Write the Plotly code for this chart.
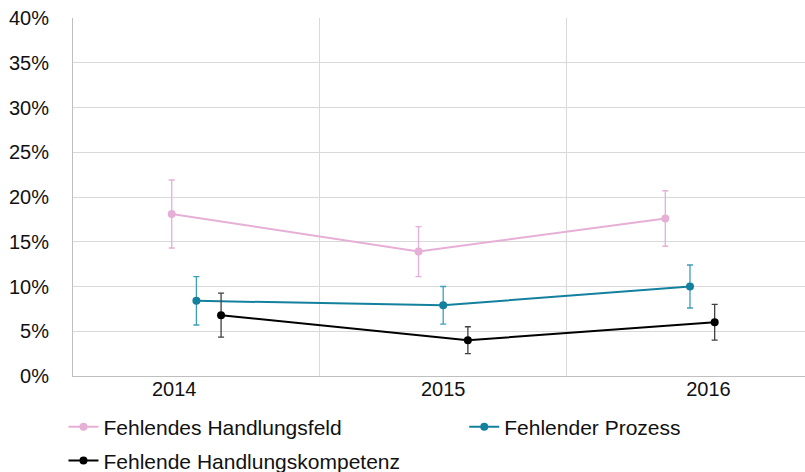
import plotly.graph_objects as go

years = ['2014', '2015', '2016']

feld = [18.1, 13.9, 17.6]
feld_err = [3.8, 2.8, 3.1]

prozess = [8.4, 7.9, 10.0]
prozess_err = [2.7, 2.1, 2.4]

kompetenz = [6.8, 4.0, 6.0]
kompetenz_err = [2.45, 1.5, 2.0]

y_ticks = [0, 5, 10, 15, 20, 25, 30, 35, 40]

FONT = 'Liberation Sans, Arial, sans-serif'


def pct(vals):
    return [v / 100 for v in vals]


series = [
    ('Fehlendes Handlungsfeld', feld, feld_err, '#e6afd6', '#e6afd6', -0.1, 'legend'),
    ('Fehlender Prozess', prozess, prozess_err, '#13819d', '#3e9fb8', 0.0, 'legend2'),
    ('Fehlende Handlungskompetenz', kompetenz, kompetenz_err, '#000000', '#404040', 0.1, 'legend3'),
]

fig = go.Figure()
for name, vals, err, color, ecolor, off, leg in series:
    fig.add_trace(go.Scatter(
        x=[i + off for i in range(len(years))],
        y=pct(vals),
        name=name,
        mode='lines+markers',
        line=dict(color=color, width=2),
        marker=dict(color=color, size=8),
        error_y=dict(type='data', array=pct(err), color=ecolor, thickness=1.3, width=3),
        legend=leg,
    ))

leg_common = dict(orientation='h', xanchor='left', yanchor='middle',
                  font=dict(size=21, color='#111111'), bgcolor='rgba(0,0,0,0)')

fig.update_layout(
    width=805,
    height=472,
    margin=dict(l=72.5, r=0, t=18, b=96, autoexpand=False),
    plot_bgcolor='white',
    paper_bgcolor='white',
    font=dict(family=FONT, size=20, color='#111111'),
    showlegend=True,
    legend=dict(x=-0.013, y=-0.1425, **leg_common),
    legend2=dict(x=0.5345, y=-0.1425, **leg_common),
    legend3=dict(x=-0.013, y=-0.237, **leg_common),
)

fig.update_xaxes(
    range=[-0.5, 2.466],
    tickvals=[-0.09, 1.0, 2.075],
    ticktext=years,
    showgrid=False,
    minor=dict(tickvals=[0.5, 1.5], showgrid=True, gridcolor='#d9d9d9', gridwidth=1, ticks=''),
    showline=True, linecolor='#bfbfbf', linewidth=1,
    zeroline=False,
    ticks='', ticklabelstandoff=-5,
    tickfont=dict(size=20),
    automargin=False,
)

fig.update_yaxes(
    range=[0, 0.40],
    tickvals=pct(y_ticks),
    tickformat='.0%',
    showgrid=True, gridcolor='#d9d9d9', gridwidth=1,
    showline=True, linecolor='#bfbfbf', linewidth=1,
    zeroline=False,
    ticks='outside', ticklen=19, tickcolor='rgba(0,0,0,0)',
    tickfont=dict(size=20),
    automargin=False,
)

fig.write_html('out.html', config={'displayModeBar': False},
               post_script="document.body.style.margin='0';")
